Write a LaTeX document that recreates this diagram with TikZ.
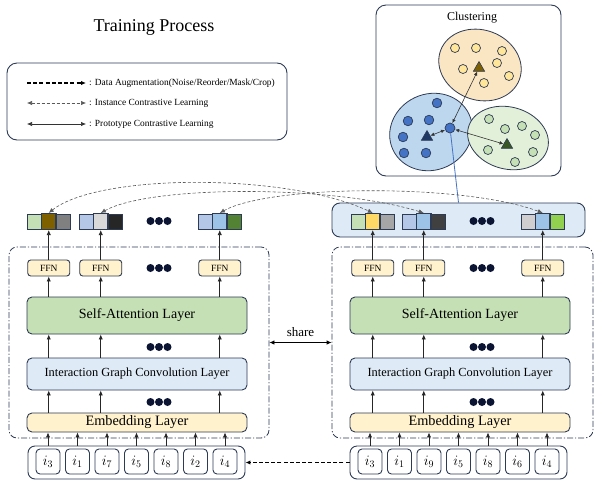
\documentclass[tikz,border=0pt]{standalone}
\usepackage{fontspec}
\setmainfont{Liberation Serif}
\usetikzlibrary{shapes.geometric, arrows.meta}

\definecolor{edge}{HTML}{2E3B55}
\definecolor{ylwbox}{HTML}{FFF2CC}
\definecolor{grnbox}{HTML}{C5E0B4}
\definecolor{blubox}{HTML}{DEEBF7}
\definecolor{dotc}{HTML}{0B1533}
\definecolor{ellY}{HTML}{FBE6C4}
\definecolor{ellB}{HTML}{BDD7EE}
\definecolor{ellG}{HTML}{E2F0D9}
\definecolor{ptY}{HTML}{FFE699}
\definecolor{ptB}{HTML}{4472C4}
\definecolor{ptG}{HTML}{C5E0B4}
\definecolor{triY}{HTML}{7F6000}
\definecolor{triB}{HTML}{1F3864}
\definecolor{triG}{HTML}{385723}
\definecolor{vgreen}{HTML}{C5E0B4}
\definecolor{vbrown}{HTML}{7F6000}
\definecolor{vgray}{HTML}{808080}
\definecolor{vlav}{HTML}{B4C7E7}
\definecolor{vsilver}{HTML}{D9D9D9}
\definecolor{vblack}{HTML}{262626}
\definecolor{vsky}{HTML}{9DC3E6}
\definecolor{vleaf}{HTML}{548235}
\definecolor{vgold}{HTML}{FFD966}
\definecolor{vmid}{HTML}{A6A6A6}
\definecolor{vcoal}{HTML}{404040}
\definecolor{vpale}{HTML}{D0CECE}
\definecolor{vlime}{HTML}{92D050}

\begin{document}
\begin{tikzpicture}[x=1pt, y=-1pt, >={Latex[length=5pt,width=4.4pt]},
    box/.style={draw=edge, line width=0.9pt, rounded corners=5pt, inner sep=0pt},
    layer/.style={box, minimum width=220pt},
    ffn/.style={box, rounded corners=3pt, fill=ylwbox, minimum width=42pt, minimum height=16pt, font=\fontsize{9.5}{9.5}\selectfont},
    cell/.style={draw=edge, line width=0.8pt, minimum width=14.5pt, minimum height=15pt, inner sep=0pt},
    item/.style={box, rounded corners=4pt, minimum width=24pt, minimum height=25pt, font=\fontsize{14}{14}\selectfont},
    frame/.style={draw=edge, line width=0.8pt, dash pattern=on 6pt off 2pt on 1.2pt off 2pt, rounded corners=8pt, minimum width=260pt, minimum height=191pt},
    flow/.style={->, line width=0.8pt, black!85},
    aug/.style={->, line width=1.4pt, dash pattern=on 4pt off 2.2pt},
    inst/.style={<->, line width=0.6pt, black!65, dash pattern=on 3pt off 2pt},
    proto/.style={<->, line width=0.6pt, black!80},
    pt/.style={circle, draw=edge, line width=0.7pt, inner sep=0pt, minimum size=9pt},
    tri/.style={regular polygon, regular polygon sides=3, draw=edge, line width=0.6pt, inner sep=0pt, minimum size=13pt},
    legtext/.style={anchor=west, inner sep=3pt, font=\fontsize{9.4}{9.4}\selectfont}]
  \useasboundingbox[fill=white] (0,0) rectangle (600,485);

  \node[font=\fontsize{18}{18}\selectfont] (title) at (154,27) {Training Process};

  \node[box, rounded corners=10pt, minimum width=280pt, minimum height=77pt] (legend) at (147,101.5) {};
  \coordinate (lg1) at (27,83);
  \coordinate (lg2) at (27,103);
  \coordinate (lg3) at (27,124);
  \node[legtext] (lt1) at (86,83) {: Data Augmentation(Noise/Reorder/Mask/Crop)};
  \node[legtext] (lt2) at (86,103) {: Instance Contrastive Learning};
  \node[legtext] (lt3) at (86,124) {: Prototype Contrastive Learning};
  \draw[aug] (lg1) -- (lt1.west);
  \draw[inst] (lg2) -- (lt2.west);
  \draw[proto] (lg3) -- (lt3.west);

  \node[box, rounded corners=10pt, minimum width=185pt, minimum height=171pt] (clbox) at (468.5,90.5) {};
  \node[font=\fontsize{12}{12}\selectfont] (cltitle) at (472,18) {Clustering};
  \filldraw[fill=ellY, draw=edge, line width=0.8pt, shift={(480,65)}, rotate=-20] (0,0) ellipse (42 and 35);
  \filldraw[fill=ellB, draw=edge, line width=0.8pt, shift={(431,132)}, rotate=25] (0,0) ellipse (42 and 38);
  \filldraw[fill=ellG, draw=edge, line width=0.8pt, shift={(508,138)}, rotate=-15] (0,0) ellipse (41 and 31);
  \foreach \p in {(455,48),(476,48),(502,51),(463,69),(497,63),(509,76),(484,83)}
    \filldraw[fill=ptY, draw=edge, line width=0.7pt] \p circle (4.5);
  \foreach \p in {(437,103),(408,121),(429,120),(403,137),(404,153),(426,153)}
    \filldraw[fill=ptB, draw=edge, line width=0.7pt] \p circle (4.8);
  \foreach \p in {(489,119),(505,129),(522,126),(535,135),(488,150),(533,152),(515,162)}
    \filldraw[fill=ptG, draw=edge, line width=0.7pt] \p circle (4.5);
  \node[tri, fill=triY] (ty) at (479,68) {};
  \node[tri, fill=triB] (tb) at (427,137) {};
  \node[tri, fill=triG] (tg) at (507,145) {};
  \node[pt, fill=ptB, minimum size=10pt] (cq) at (450,128) {};
  \draw[proto, >={Latex[length=4pt,width=3.6pt]}] (cq) -- (ty);
  \draw[proto, >={Latex[length=4pt,width=3.6pt]}] (cq) -- (tb);
  \draw[proto, >={Latex[length=4pt,width=3.6pt]}] (cq) -- (tg);

  \node[frame] (lframe) at (139,342.5) {};
  \node[frame, minimum width=261pt] (rframe) at (462.5,342.5) {};
  \node[box, rounded corners=8pt, fill=blubox, minimum width=253pt, minimum height=34pt] (rpanel) at (458.5,220) {};
  \draw[line width=0.8pt, ptB] (cq) -- (rpanel.north);

  \foreach \g/\x/\ca/\cb/\cc in {l1/27/vgreen/vbrown/vgray, l2/79/vlav/vsilver/vblack, l3/198/vlav/vsky/vleaf,
      r1/351/vgreen/vgold/vmid, r2/402/vlav/vsky/vcoal, r3/521/vpale/vsky/vlime} {
    \node[cell, fill=\ca] (\g a) at (\x+7.25,221.5) {};
    \node[cell, fill=\cc] (\g c) at (\x+36.25,221.5) {};
    \node[cell, fill=\cb, line width=1.1pt, minimum height=16pt] (\g b) at (\x+21.75,221.5) {};
  }

  \foreach \s/\x in {l/137, r/460} {
    \node[layer, fill=grnbox, minimum height=37pt, font=\fontsize{14}{14}\selectfont] (\s sa) at (\x,315.5) {Self-Attention Layer};
    \node[layer, fill=blubox, minimum height=32pt, font=\fontsize{12.4}{12.4}\selectfont] (\s igc) at (\x,374) {Interaction Graph Convolution Layer};
    \node[layer, fill=ylwbox, minimum height=19pt, font=\fontsize{14.3}{14.3}\selectfont] (\s emb) at (\x,422.5) {Embedding Layer};
  }

  \foreach \c in {1,2,3} {
    \node[ffn] (lf\c) at (l\c b |- 0,268) {FFN};
    \node[ffn] (rf\c) at (r\c b |- 0,268) {FFN};
    \foreach \s in {l,r} {
      \draw[flow] (\s f\c.north) -- (\s\c b.south);
      \draw[flow] (\s sa.north -| \s f\c) -- (\s f\c.south);
      \draw[flow] (\s igc.north -| \s f\c) -- (\s sa.south -| \s f\c);
      \draw[flow] (\s emb.north -| \s f\c) -- (\s igc.south -| \s f\c);
    }
  }

  \foreach \x in {159,482}
    \foreach \y in {221,268,347,402}
      \foreach \d in {-8.5,0,8.5}
        \fill[dotc] (\x+\d,\y) circle (4);

  \node[box, rounded corners=7pt, minimum width=217pt, minimum height=33pt] (lin) at (136.5,462.5) {};
  \node[box, rounded corners=7pt, minimum width=217pt, minimum height=33pt] (rin) at (458.5,462.5) {};
  \foreach \n [count=\i from 0] in {3,1,7,5,8,2,4} {
    \node[item] (li\i) at (48+29.5*\i,461.5) {$i_{\n}$};
    \draw[flow] (lin.north -| li\i) -- (lemb.south -| li\i);
  }
  \foreach \n [count=\i from 0] in {3,1,9,5,8,6,4} {
    \node[item] (ri\i) at (370+29.5*\i,461.5) {$i_{\n}$};
    \draw[flow] (rin.north -| ri\i) -- (remb.south -| ri\i);
  }

  \draw[aug] (rin.west) -- (lin.east);
  \draw[<->, line width=0.8pt] (lframe.east) -- (rframe.west)
    node[midway, above=2pt, font=\fontsize{13}{13}\selectfont] (share) {share};

  \draw[inst] (l1b.north) .. controls +(50,-40) and +(-85,-40) .. (r1b.north);
  \draw[inst] (l2b.north) .. controls +(50,-28) and +(-90,-28) .. (r2b.north);
  \draw[inst] (l3b.north) .. controls +(50,-28) and +(-80,-30) .. (r3b.north);
\end{tikzpicture}
\end{document}
